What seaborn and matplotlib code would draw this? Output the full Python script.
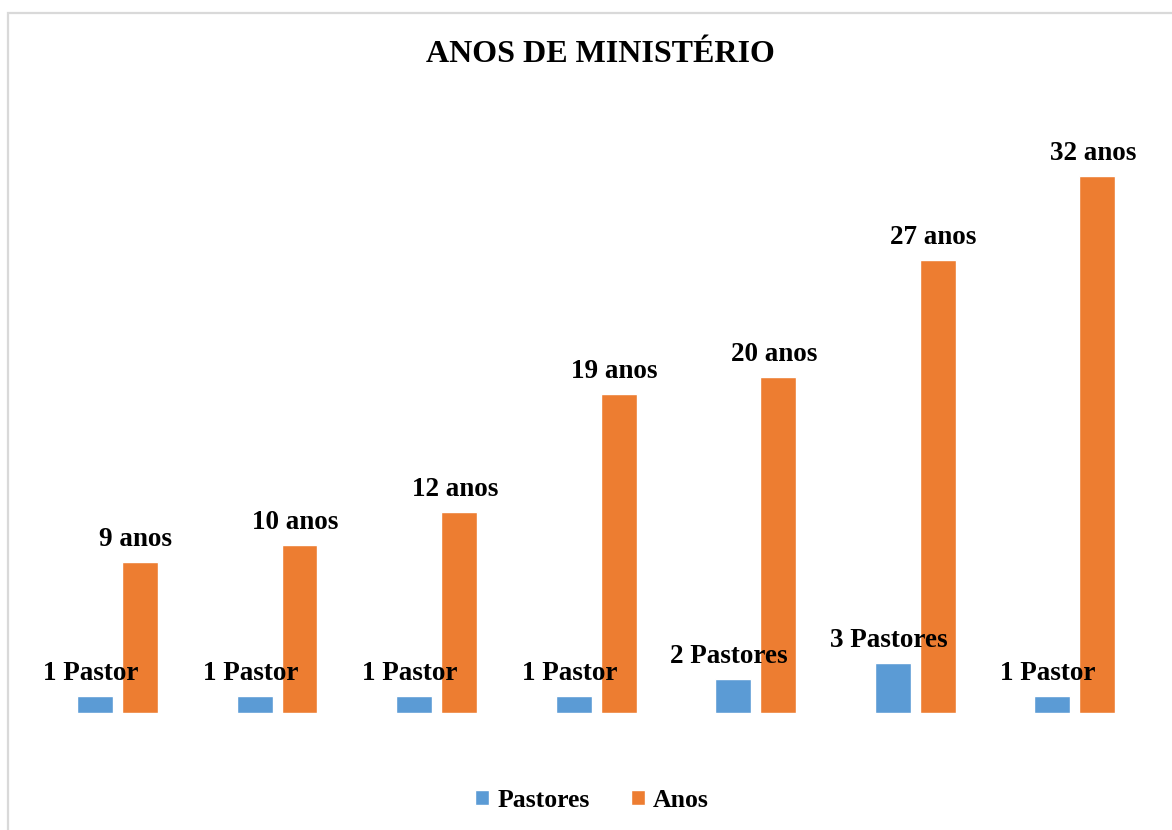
import pandas as pd
import numpy as np
import matplotlib.pyplot as plt
import seaborn as sns
from matplotlib.patches import Rectangle

# dados do grafico
grupos = ['G1', 'G2', 'G3', 'G4', 'G5', 'G6', 'G7']
pastores = [1, 1, 1, 1, 2, 3, 1]
anos = [9, 10, 12, 19, 20, 27, 32]
series = ['Pastores', 'Anos']
cores = ['#5B9BD5', '#ED7D31']

df = pd.DataFrame({
    'grupo': grupos * 2,
    'serie': ['Pastores'] * len(grupos) + ['Anos'] * len(grupos),
    'valor': pastores + anos,
})

def rotulo_pastor(n):
    return '%d Pastor' % n if n == 1 else '%d Pastores' % n

rotulos = {
    'Pastores': [rotulo_pastor(n) for n in pastores],
    'Anos': ['%d anos' % n for n in anos],
}

sns.set_style('white')
plt.rcParams['font.family'] = ['Liberation Serif', 'DejaVu Serif']
plt.rcParams['text.color'] = 'black'

fig = plt.figure(figsize=(11.72, 8.30), dpi=100)
ax = fig.add_axes([0.0322, 0.14096, 0.9527, 0.7076])

sns.barplot(data=df, x='grupo', y='valor', hue='serie', hue_order=series,
            palette=cores, width=0.564, gap=0.2, ax=ax, saturation=1)

ax.set_ylim(0, 35)
ax.set_xlim(-0.5, len(grupos) - 0.5)
ax.set_xticks([])
ax.set_yticks([])
ax.set_xlabel('')
ax.set_ylabel('')
for s in ax.spines.values():
    s.set_visible(False)

# rotulos acima das barras
for cont, serie in zip(ax.containers, series):
    for barra, txt in zip(cont.patches, rotulos[serie]):
        x = barra.get_x() + barra.get_width() / 2
        y = barra.get_height()
        ax.annotate(txt, (x, y), xytext=(-3, 11.5), textcoords='offset points',
                    ha='center', va='baseline', fontsize=19.5, fontweight='bold',
                    color='black')

# legenda em baixo
handles, labels = ax.get_legend_handles_labels()
ax.legend_.remove()
leg = fig.legend(handles, labels, loc='center', bbox_to_anchor=(0.505, 0.036),
                 ncol=2, frameon=False, handlelength=0.55, handleheight=0.55,
                 handletextpad=0.3, columnspacing=1.6,
                 prop={'size': 18.5, 'weight': 'bold'})
for t in leg.get_texts():
    t.set_color('black')

fig.text(0.512, 1 - 61.5 / 830, 'ANOS DE MINISTÉRIO', ha='center', va='baseline',
         fontsize=23, fontweight='bold', color='black')

# borda do grafico
fig.patches.append(Rectangle((8 / 1172, -0.05), 1.2, 1 - 13 / 830 + 0.05,
                             transform=fig.transFigure, fill=False,
                             edgecolor='#D9D9D9', linewidth=1.6))

fig.savefig('out.png', dpi=100)
